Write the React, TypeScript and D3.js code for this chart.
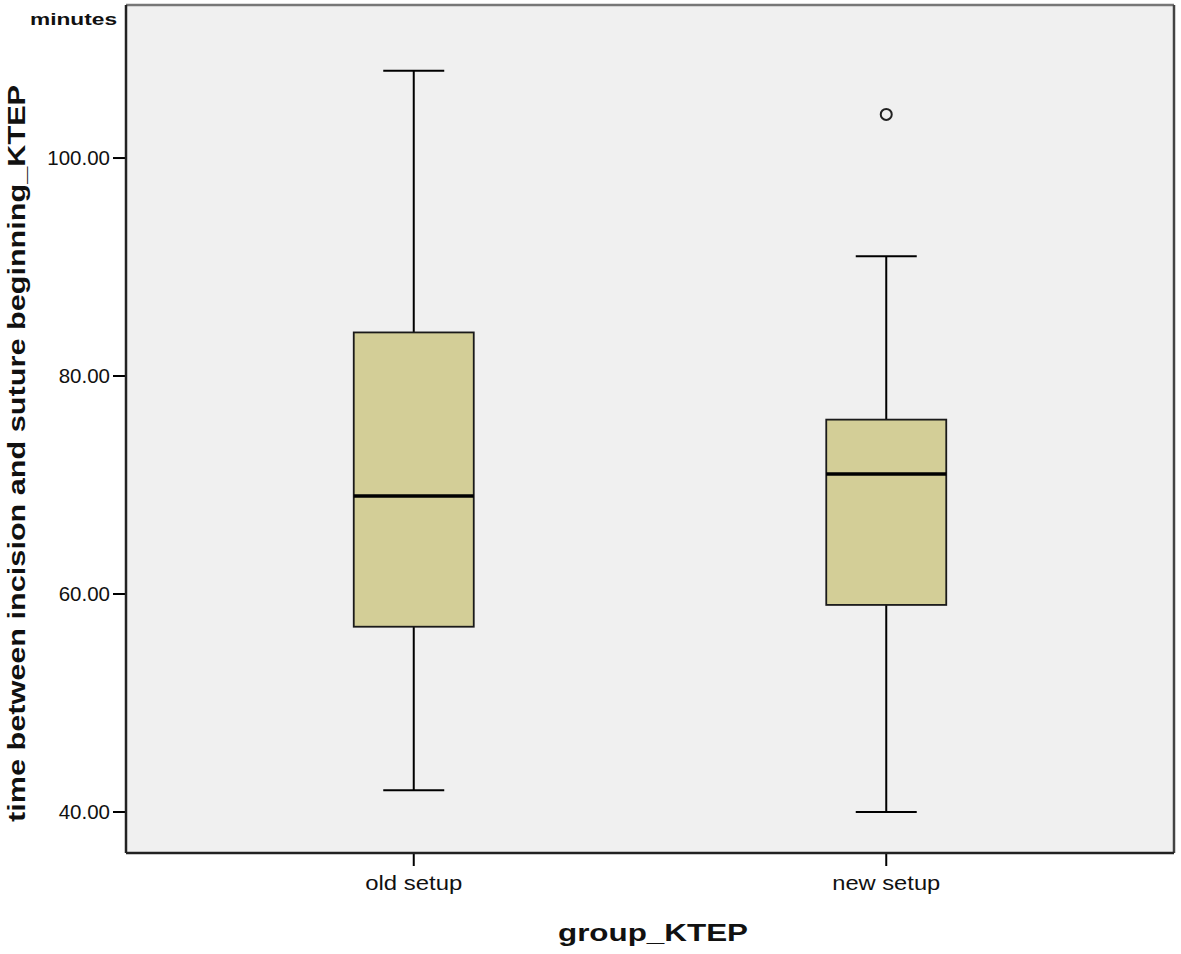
import React from "react";
import * as d3 from "d3";

const categories = ["old setup", "new setup"];
const whiskerLow = [42, 40];
const q1 = [57, 59];
const median = [69, 71];
const q3 = [84, 76];
const whiskerHigh = [108, 91];
const outliers = [[], [104]];
const yTicks = [40, 60, 80, 100];

const W = 1181;
const H = 954;
const left = 126;
const right = 1174;
const top = 5;
const bottom = 853;

export default function App() {
  const x = d3.scalePoint<string>().domain(categories).range([left, right]).padding(0.609);
  const y = d3.scaleLinear().domain([36.24, 114.04]).range([bottom, top]);
  const boxW = 120;
  const capW = 61;
  const font = "'Liberation Sans', Arial, sans-serif";
  const catLen = [97, 108];

  return (
    <svg width={W} height={H} style={{ position: "absolute", left: 0, top: 0 }}>
      <rect x={0} y={0} width={W} height={H} fill="#ffffff" />
      <rect x={left} y={top} width={right - left} height={bottom - top} fill="#f0f0f0" />
      {categories.map((c, i) => {
        const cx = x(c)!;
        return (
          <g key={c}>
            <line x1={cx} x2={cx} y1={y(whiskerHigh[i])} y2={y(q3[i])} stroke="#000" strokeWidth={2} />
            <line x1={cx} x2={cx} y1={y(q1[i])} y2={y(whiskerLow[i])} stroke="#000" strokeWidth={2} />
            <line x1={cx - capW / 2} x2={cx + capW / 2} y1={y(whiskerHigh[i])} y2={y(whiskerHigh[i])} stroke="#000" strokeWidth={2} />
            <line x1={cx - capW / 2} x2={cx + capW / 2} y1={y(whiskerLow[i])} y2={y(whiskerLow[i])} stroke="#000" strokeWidth={2} />
            <rect x={cx - boxW / 2} y={y(q3[i])} width={boxW} height={y(q1[i]) - y(q3[i])} fill="#d3ce97" stroke="#1a1a1a" strokeWidth={1.8} />
            <line x1={cx - boxW / 2} x2={cx + boxW / 2} y1={y(median[i])} y2={y(median[i])} stroke="#000" strokeWidth={3.5} />
            {outliers[i].map((o, k) => (
              <circle key={k} cx={cx} cy={y(o)} r={5.5} fill="none" stroke="#222" strokeWidth={2} />
            ))}
            <line x1={cx} x2={cx} y1={bottom} y2={bottom + 13} stroke="#000" strokeWidth={2} />
            <text x={cx} y={890} textAnchor="middle" fontFamily={font} fontSize={20} fill="#111" textLength={catLen[i]} lengthAdjust="spacingAndGlyphs">{c}</text>
          </g>
        );
      })}
      {yTicks.map((t) => (
        <g key={t}>
          <line x1={left - 13} x2={left} y1={y(t)} y2={y(t)} stroke="#000" strokeWidth={2} />
          <text x={left - 16} y={y(t) + 7} textAnchor="end" fontFamily={font} fontSize={20.5} fill="#111">{t.toFixed(2)}</text>
        </g>
      ))}
      <line x1={left} x2={right} y1={top} y2={top} stroke="#777" strokeWidth={2.5} />
      <line x1={right} x2={right} y1={top} y2={bottom} stroke="#444" strokeWidth={2.5} />
      <line x1={left} x2={left} y1={top} y2={bottom} stroke="#222" strokeWidth={2.5} />
      <line x1={left} x2={right} y1={bottom} y2={bottom} stroke="#222" strokeWidth={2.5} />
      <text x={30} y={25} fontFamily={font} fontSize={16} fontWeight="bold" fill="#111" textLength={87} lengthAdjust="spacingAndGlyphs">minutes</text>
      <text x={558} y={941} fontFamily={font} fontSize={24} fontWeight="bold" fill="#111" textLength={190} lengthAdjust="spacingAndGlyphs">group_KTEP</text>
      <text transform={`translate(25, 822) rotate(-90)`} fontFamily={font} fontSize={24} fontWeight="bold" fill="#111" textLength={737} lengthAdjust="spacingAndGlyphs">time between incision and suture beginning_KTEP</text>
    </svg>
  );
}
